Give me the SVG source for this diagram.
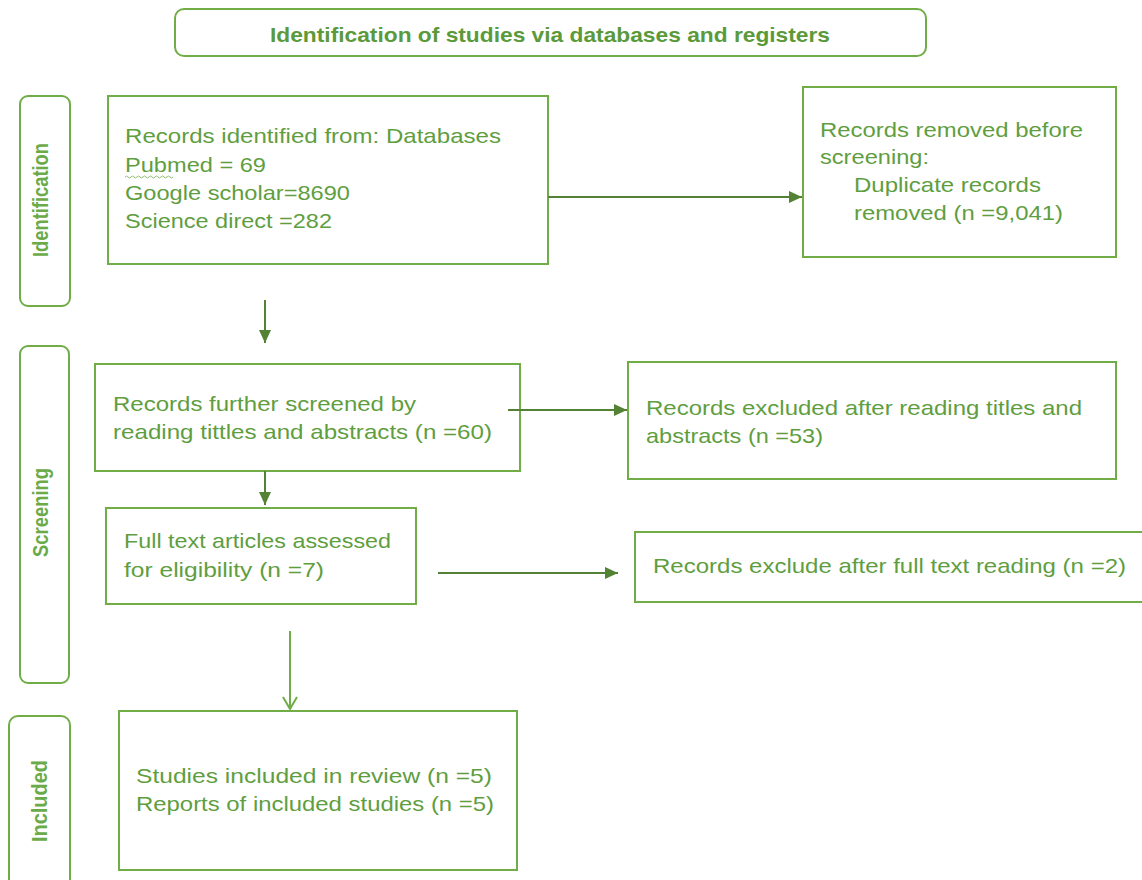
<svg xmlns="http://www.w3.org/2000/svg" width="1142" height="880" viewBox="0 0 1142 880">
<defs>
<marker id="fill" markerUnits="userSpaceOnUse" markerWidth="16" markerHeight="16" refX="13" refY="8" orient="auto">
<path d="M0,2 L13,8 L0,14 Z" fill="#548235"/>
</marker>
<marker id="open" markerUnits="userSpaceOnUse" markerWidth="16" markerHeight="16" refX="13" refY="8" orient="auto">
<path d="M1,1 L13,8 L1,15" fill="none" stroke="#70ad47" stroke-width="2"/>
</marker>
<style>
.box{fill:#fff;stroke:#70ad47;stroke-width:2}
.t{font-family:"Liberation Sans",Arial,sans-serif;font-size:21px;fill:#5f9e3f}
.tb{font-family:"Liberation Sans",Arial,sans-serif;font-size:21px;font-weight:bold;fill:#5b9a3a}
.v{font-family:"Liberation Sans Narrow","Liberation Sans",Arial,sans-serif;font-size:22px;font-weight:bold;fill:#6aaa48}
.a{stroke:#548235;stroke-width:2;fill:none}
.a2{stroke:#70ad47;stroke-width:2;fill:none}
</style>
</defs>
<rect width="1142" height="880" fill="#fff"/>

<g id="title">
<rect class="box" x="175" y="9" width="751" height="47" rx="9"/>
<text class="tb" x="270" y="42" textLength="560" lengthAdjust="spacingAndGlyphs">Identification of studies via databases and registers</text>
</g>

<g id="label-identification">
<rect class="box" x="20" y="96" width="50" height="210" rx="8"/>
<text class="v" transform="translate(48,257) rotate(-90)" textLength="114" lengthAdjust="spacingAndGlyphs">Identification</text>
</g>
<g id="label-screening">
<rect class="box" x="20" y="346" width="49" height="337" rx="8"/>
<text class="v" transform="translate(48,557) rotate(-90)" textLength="89" lengthAdjust="spacingAndGlyphs">Screening</text>
</g>
<g id="label-included">
<rect class="box" x="9" y="716" width="61" height="180" rx="9"/>
<text class="v" transform="translate(47,842) rotate(-90)" textLength="82" lengthAdjust="spacingAndGlyphs">Included</text>
</g>

<g id="records-identified">
<rect class="box" x="108" y="96" width="440" height="168"/>
<text class="t" x="125" y="143" textLength="376" lengthAdjust="spacingAndGlyphs">Records identified from: Databases</text>
<text class="t" x="125" y="172" textLength="141" lengthAdjust="spacingAndGlyphs">Pubmed = 69</text>
<path d="M125,177 q1.5,-2 3,0 t3,0 t3,0 t3,0 t3,0 t3,0 t3,0 t3,0 t3,0 t3,0 t3,0 t3,0 t3,0 t3,0 t3,0 t3,0" fill="none" stroke="#8fbf6f" stroke-width="1"/>
<text class="t" x="125" y="200" textLength="225" lengthAdjust="spacingAndGlyphs">Google scholar=8690</text>
<text class="t" x="125" y="228" textLength="207" lengthAdjust="spacingAndGlyphs">Science direct =282</text>
</g>

<g id="records-removed">
<rect class="box" x="803" y="87" width="313" height="170"/>
<text class="t" x="820" y="137" textLength="263" lengthAdjust="spacingAndGlyphs">Records removed before</text>
<text class="t" x="820" y="164" textLength="109" lengthAdjust="spacingAndGlyphs">screening:</text>
<text class="t" x="854" y="192" textLength="187" lengthAdjust="spacingAndGlyphs">Duplicate records</text>
<text class="t" x="854" y="220" textLength="209" lengthAdjust="spacingAndGlyphs">removed (n =9,041)</text>
</g>

<g id="records-screened">
<rect class="box" x="95" y="364" width="425" height="107"/>
<text class="t" x="113" y="411" textLength="303" lengthAdjust="spacingAndGlyphs">Records further screened by</text>
<text class="t" x="113" y="439" textLength="379" lengthAdjust="spacingAndGlyphs">reading tittles and abstracts (n =60)</text>
</g>

<g id="records-excluded">
<rect class="box" x="628" y="362" width="488" height="117"/>
<text class="t" x="646" y="415" textLength="436" lengthAdjust="spacingAndGlyphs">Records excluded after reading titles and</text>
<text class="t" x="646" y="443" textLength="177" lengthAdjust="spacingAndGlyphs">abstracts (n =53)</text>
</g>

<g id="full-text">
<rect class="box" x="106" y="508" width="310" height="96"/>
<text class="t" x="124" y="548" textLength="267" lengthAdjust="spacingAndGlyphs">Full text articles assessed</text>
<text class="t" x="124" y="577" textLength="200" lengthAdjust="spacingAndGlyphs">for eligibility (n =7)</text>
</g>

<g id="full-text-excluded">
<rect class="box" x="635" y="532" width="520" height="70"/>
<text class="t" x="653" y="573" textLength="473" lengthAdjust="spacingAndGlyphs">Records exclude after full text reading (n =2)</text>
</g>

<g id="included-studies">
<rect class="box" x="119" y="711" width="398" height="159"/>
<text class="t" x="136" y="783" textLength="356" lengthAdjust="spacingAndGlyphs">Studies included in review (n =5)</text>
<text class="t" x="136" y="811" textLength="358" lengthAdjust="spacingAndGlyphs">Reports of included studies (n =5)</text>
</g>

<g id="connectors">
<line class="a" x1="548" y1="197" x2="802" y2="197" marker-end="url(#fill)"/>
<line class="a" x1="265" y1="300" x2="265" y2="343" marker-end="url(#fill)"/>
<line class="a" x1="508" y1="410" x2="627" y2="410" marker-end="url(#fill)"/>
<line class="a" x1="265" y1="471" x2="265" y2="505" marker-end="url(#fill)"/>
<line class="a" x1="438" y1="573" x2="618" y2="573" marker-end="url(#fill)"/>
<line class="a2" x1="290" y1="631" x2="290" y2="709" marker-end="url(#open)"/>
</g>
</svg>
